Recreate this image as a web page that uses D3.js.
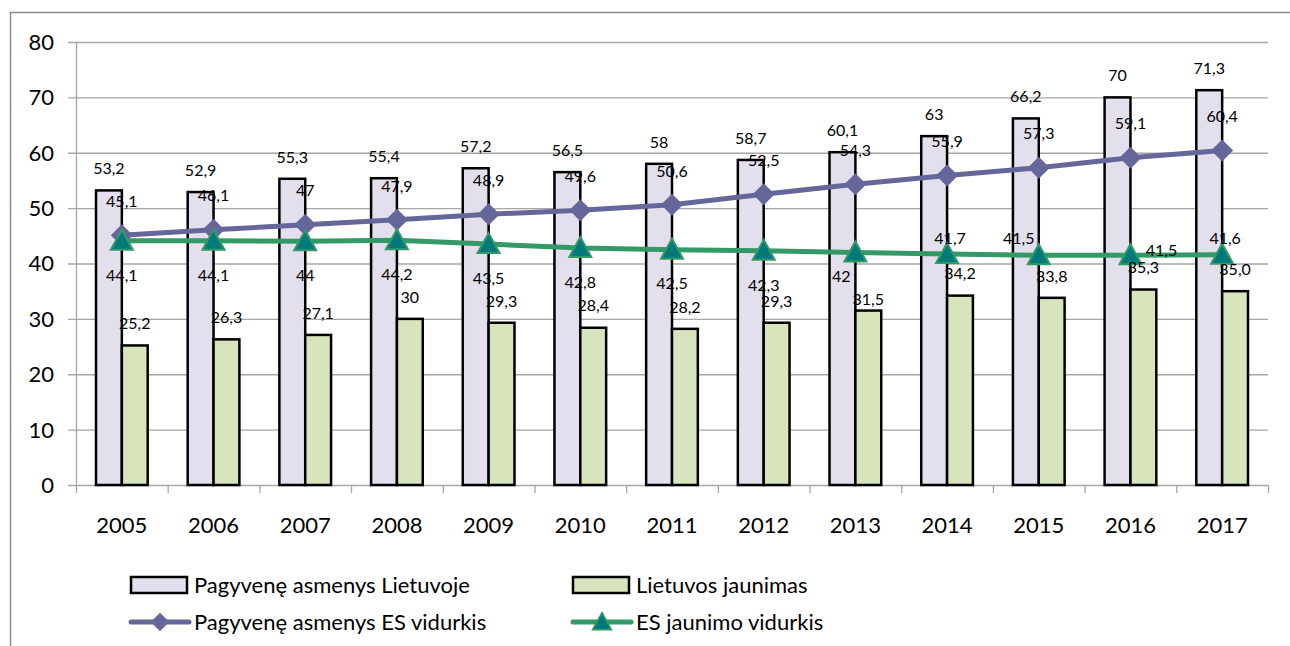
<!DOCTYPE html>
<html>
<head>
<meta charset="utf-8">
<script src="https://cdn.jsdelivr.net/npm/d3@7"></script>
<style>
  body { margin: 0; background: #fff; }
  svg { display: block; font-family: Lato, "Open Sans", sans-serif; }
</style>
</head>
<body>
<svg width="1290" height="646"></svg>
<script>
// chart data
const years = ["2005","2006","2007","2008","2009","2010","2011","2012","2013","2014","2015","2016","2017"];
const seniorsLT = [53.2, 52.9, 55.3, 55.4, 57.2, 56.5, 58, 58.7, 60.1, 63, 66.2, 70, 71.3];
const youthLT   = [25.2, 26.3, 27.1, 30, 29.3, 28.4, 28.2, 29.3, 31.5, 34.2, 33.8, 35.3, 35.0];
const seniorsEU = [45.1, 46.1, 47, 47.9, 48.9, 49.6, 50.6, 52.5, 54.3, 55.9, 57.3, 59.1, 60.4];
const youthEU   = [44.1, 44.1, 44, 44.2, 43.5, 42.8, 42.5, 42.3, 42, 41.7, 41.5, 41.5, 41.6];
const youthLTLabels = ["25,2","26,3","27,1","30","29,3","28,4","28,2","29,3","31,5","34,2","33,8","35,3","35,0"];
// label spots that were dragged by hand in the original
const youthEUPlace = ["below","below","below","below","below","below","below","below","belowLeft","above","aboveLeft","right","above"];
const youthLTPlace = ["top","top","top","top","top","top","top","top","low","top","top","top","top"];
const yTicks = [0, 10, 20, 30, 40, 50, 60, 70, 80];

const fmt = v => String(v).replace(".", ",");

const svg = d3.select("svg");

svg.append("rect")
    .attr("x", 10.5).attr("y", 12.5)
    .attr("width", 1290).attr("height", 700)
    .attr("fill", "none")
    .attr("stroke", "#8c8c8c")
    .attr("stroke-width", 1.5);

const mLeft = 76, mRight = 1268, mTop = 42, mBottom = 485;

const x = d3.scaleBand().domain(years).range([mLeft, mRight]);
const xs = d3.scaleBand().domain(["lt", "yt"]).range([20, x.bandwidth() - 20]);
const y = d3.scaleLinear().domain([0, 80]).range([mBottom, mTop]);
const cx = d => x(d) + x.bandwidth() / 2;

// grid
svg.append("g")
  .selectAll("line")
  .data(yTicks)
  .join("line")
    .attr("x1", mLeft - 8).attr("x2", mRight)
    .attr("y1", d => y(d) + 0.5).attr("y2", d => y(d) + 0.5)
    .attr("stroke", "#a6a6a6")
    .attr("stroke-width", 1.3);

svg.append("line")
    .attr("x1", mLeft + 0.5).attr("x2", mLeft + 0.5)
    .attr("y1", mTop).attr("y2", mBottom)
    .attr("stroke", "#a6a6a6").attr("stroke-width", 1.3);

// x axis ticks at category boundaries
svg.append("g")
  .selectAll("line")
  .data(years.concat(["end"]))
  .join("line")
    .attr("x1", (d, i) => mLeft + i * x.bandwidth() + 0.5)
    .attr("x2", (d, i) => mLeft + i * x.bandwidth() + 0.5)
    .attr("y1", mBottom).attr("y2", mBottom + 8)
    .attr("stroke", "#a6a6a6").attr("stroke-width", 1.3);

svg.append("g")
  .selectAll("text")
  .data(yTicks)
  .join("text")
    .attr("x", 54).attr("y", d => y(d))
    .attr("dy", "0.36em")
    .attr("text-anchor", "end")
    .style("font-size", "22px")
    .text(d => d);

svg.append("g")
  .selectAll("text")
  .data(years)
  .join("text")
    .attr("x", cx).attr("y", 525)
    .attr("dy", "0.36em")
    .attr("text-anchor", "middle")
    .style("font-size", "22px")
    .text(d => d);

// bars
const bars = [
  {key: "lt", values: seniorsLT, fill: "#e4dfec", labels: seniorsLT.map(fmt), place: seniorsLT.map(() => "top")},
  {key: "yt", values: youthLT, fill: "#d8e4bc", labels: youthLTLabels, place: youthLTPlace}
];

bars.forEach(s => {
  svg.append("g")
    .selectAll("rect")
    .data(s.values)
    .join("rect")
      .attr("x", (d, i) => x(years[i]) + xs(s.key))
      .attr("y", d => y(d))
      .attr("width", xs.bandwidth())
      .attr("height", d => mBottom - y(d))
      .attr("fill", s.fill)
      .attr("stroke", "#000")
      .attr("stroke-width", 2.5);
});

// lines
const line = d3.line().x((d, i) => cx(years[i])).y(d => y(d));

svg.append("path")
    .datum(seniorsEU)
    .attr("d", line)
    .attr("fill", "none")
    .attr("stroke", "#65669a")
    .attr("stroke-width", 5);

svg.append("path")
    .datum(youthEU)
    .attr("d", line)
    .attr("fill", "none")
    .attr("stroke", "#339966")
    .attr("stroke-width", 5);

const diamond = "M0,-11L11,0L0,11L-11,0Z";
const triangle = "M0,-11L11,9L-11,9Z";

svg.append("g")
  .selectAll("path")
  .data(seniorsEU)
  .join("path")
    .attr("transform", (d, i) => `translate(${cx(years[i])},${y(d)})`)
    .attr("d", diamond)
    .attr("fill", "#65669a");

svg.append("g")
  .selectAll("path")
  .data(youthEU)
  .join("path")
    .attr("transform", (d, i) => `translate(${cx(years[i])},${y(d)})`)
    .attr("d", triangle)
    .attr("fill", "#007a7a")
    .attr("stroke", "#339966")
    .attr("stroke-width", 2);

// data labels
const labelG = svg.append("g").style("font-size", "16px");
const barShift = {top: -22, low: -11};

bars.forEach(s => {
  labelG.append("g")
    .selectAll("text")
    .data(s.values)
    .join("text")
      .attr("x", (d, i) => x(years[i]) + xs(s.key) + xs.bandwidth() / 2)
      .attr("y", (d, i) => y(d) + barShift[s.place[i]])
      .attr("dy", "0.36em")
      .attr("text-anchor", "middle")
      .text((d, i) => s.labels[i]);
});

labelG.append("g")
  .selectAll("text")
  .data(seniorsEU)
  .join("text")
    .attr("x", (d, i) => cx(years[i]))
    .attr("y", d => y(d) - 34)
    .attr("dy", "0.36em")
    .attr("text-anchor", "middle")
    .text(fmt);

const place = {
  below: [0, 34], belowLeft: [-14, 24], above: [3, -16], aboveLeft: [-20, -17], right: [31, -5]
};
labelG.append("g")
  .selectAll("text")
  .data(youthEU)
  .join("text")
    .attr("x", (d, i) => cx(years[i]) + place[youthEUPlace[i]][0])
    .attr("y", (d, i) => y(d) + place[youthEUPlace[i]][1])
    .attr("dy", "0.36em")
    .attr("text-anchor", "middle")
    .text(fmt);

// legend
const legend = [
  {name: "Pagyvenę asmenys Lietuvoje", type: "bar", fill: "#e4dfec", x: 131, y: 585},
  {name: "Lietuvos jaunimas", type: "bar", fill: "#d8e4bc", x: 573, y: 585},
  {name: "Pagyvenę asmenys ES vidurkis", type: "line", color: "#65669a", shape: diamond, x: 131, y: 622},
  {name: "ES jaunimo vidurkis", type: "line", color: "#339966", shape: triangle, x: 573, y: 622}
];

const lg = svg.append("g")
  .selectAll("g")
  .data(legend)
  .join("g")
    .attr("transform", d => `translate(${d.x},${d.y})`);

lg.filter(d => d.type === "bar").append("rect")
    .attr("x", 0).attr("y", -8)
    .attr("width", 56).attr("height", 16)
    .attr("fill", d => d.fill)
    .attr("stroke", "#000").attr("stroke-width", 2.5);

lg.filter(d => d.type === "line").append("line")
    .attr("x1", 0).attr("x2", 58)
    .attr("stroke", d => d.color)
    .attr("stroke-width", 5)
    .attr("stroke-linecap", "round");

lg.filter(d => d.type === "line").append("path")
    .attr("transform", "translate(29,0) scale(0.85)")
    .attr("d", d => d.shape)
    .attr("fill", d => d.name.startsWith("ES") ? "#007a7a" : d.color)
    .attr("stroke", d => d.name.startsWith("ES") ? "#339966" : "none")
    .attr("stroke-width", 2);

lg.append("text")
    .attr("x", 63).attr("dy", "0.36em")
    .style("font-size", "22px")
    .text(d => d.name);
</script>
</body>
</html>
